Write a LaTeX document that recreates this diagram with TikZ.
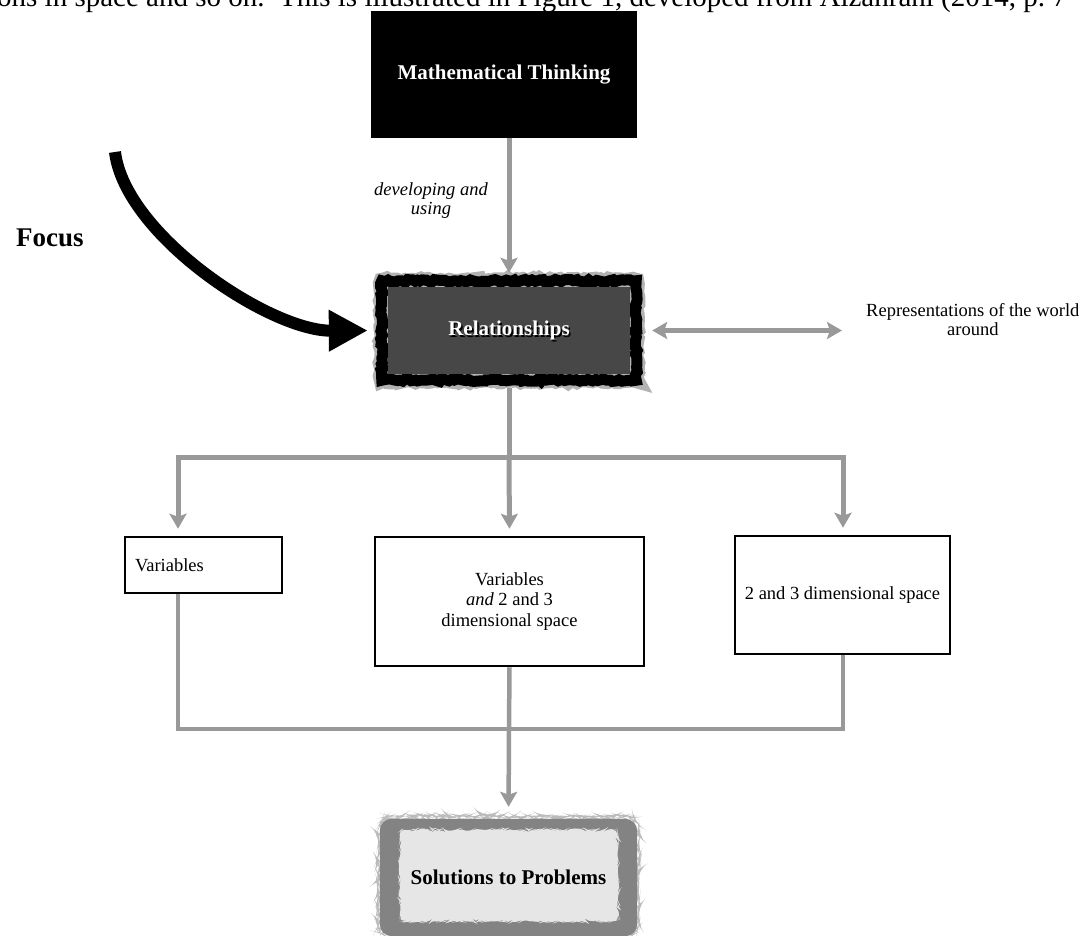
\documentclass[tikz,border=0pt]{standalone}
\usepackage{fontspec}
\setmainfont{Liberation Serif}
\usetikzlibrary{arrows.meta,decorations.pathmorphing}
\pgfdeclarelayer{bg}
\pgfsetlayers{bg,main}
\definecolor{conncol}{HTML}{999999}
\definecolor{reldark}{HTML}{474747}
\definecolor{solgray}{HTML}{838383}
\definecolor{sollight}{HTML}{E6E6E6}
\begin{document}
\begin{tikzpicture}[x=1pt,y=-1pt,
  connline/.style={draw=conncol, line width=5pt},
  connarrow/.style={draw=conncol, line width=5pt, -{Stealth[length=15pt,width=17pt,inset=3pt]}},
  plainbox/.style={draw=black, line width=2.5pt, fill=white, inner sep=0pt,
     font=\fontsize{18.5}{20.5}\selectfont},
  boldtext/.style={font=\bfseries\fontsize{21}{25}\selectfont},
  rough/.style={decorate, decoration={random steps, segment length=3pt, amplitude=1.3pt}}]
\useasboundingbox (0,0) rectangle (1082,936);
\clip (0,0) rectangle (1082,936);

% cut-off line of page text
\node[anchor=base west, inner sep=0pt, font=\fontsize{29}{32}\selectfont] (pagetext) at (-3,7)
  {ons in space and so on.\ \ This is illustrated in Figure 1, developed from Alzahrani (2014, p.~7};

% Mathematical Thinking
\node[boldtext, fill=black, text=white, minimum width=266pt, minimum height=127pt, inner sep=0pt]
  (mt) at (504,74.5) {Mathematical Thinking};

% Relationships
\node[boldtext, text=white, minimum width=270pt, minimum height=115pt, inner sep=0pt]
  (rel) at (509,330.5) {Relationships};
\begin{pgfonlayer}{bg}
  \draw[black!30, line width=16pt, rough] ([shift={(8,8)}]rel.north west) rectangle ([shift={(-8,-8)}]rel.south east);
  \draw[black, line width=11pt, rough] ([shift={(8,8)}]rel.north west) rectangle ([shift={(-8,-8)}]rel.south east);
  \fill[reldark] ([shift={(14,14)}]rel.north west) rectangle ([shift={(-14,-14)}]rel.south east);
  \node[boldtext, text=black] at ([shift={(1.6,1.6)}]rel.center) {Relationships};
\end{pgfonlayer}

% label on first connector
\node[font=\itshape\fontsize{18.5}{19}\selectfont, align=center] (dev) at (431,201) {developing and\\using};

% Focus
\node[font=\bfseries\fontsize{27}{30}\selectfont, anchor=base west, inner sep=0pt] (focus) at (16,247) {Focus};
\coordinate (fstart) at (115,152);
\draw[line width=12pt, -{Triangle[width=39pt,length=39pt]}, shorten >=6pt]
  (fstart) .. controls (125,235) and (270,331) .. (rel.west);

% Representations
\node[font=\fontsize{18.5}{19}\selectfont, align=center, inner sep=0pt, anchor=west]
  (rep) at (866,320) {Representations of the world\\around};
\draw[draw=conncol, line width=4.5pt, {Stealth[length=15pt,width=17pt,inset=3pt]}-{Stealth[length=15pt,width=17pt,inset=3pt]},
  shorten <=8pt, shorten >=24pt] (rel.east) -- (rel.east -| rep.west);

% three boxes
\node[plainbox, minimum width=157pt, minimum height=56pt, text width=137pt, align=left, inner xsep=10pt]
  (var) at (203.5,565) {Variables};
\node[plainbox, minimum width=269pt, minimum height=129pt, align=center]
  (mid) at (509.5,601.5) {Variables\\\textit{and} 2 and 3\\dimensional space};
\node[plainbox, minimum width=215pt, minimum height=118pt, align=center]
  (rb) at (842.5,595) {2 and 3 dimensional space};

% Solutions
\node[boldtext, minimum width=257pt, minimum height=117pt, inner sep=0pt]
  (sol) at (508.5,877.5) {Solutions to Problems};
\begin{pgfonlayer}{bg}
  \fill[solgray!55, rounded corners=12pt, rough] ([shift={(-1,-2)}]sol.north west) rectangle ([shift={(1,1)}]sol.south east);
  \fill[solgray, rounded corners=12pt] (sol.north west) rectangle (sol.south east);
  \fill[sollight, rounded corners=5pt, rough] ([shift={(20,11)}]sol.north west) rectangle ([shift={(-19,-15)}]sol.south east);
\end{pgfonlayer}

% upper connectors
\coordinate (split) at (509,457);
\coordinate (lc) at (178,457);
\coordinate (rc) at (843,457);
\draw[connarrow] (rel.north |- mt.south) -- (rel.north);
\draw[connline] (rel.south) -- (split);
\draw[connline, line cap=rect] (lc) -- (rc);
\draw[connarrow, shorten >=7pt] (lc) -- (lc |- var.north);
\draw[connarrow, shorten >=7pt] (split) -- (mid.north);
\draw[connarrow, shorten >=7pt] (rc) -- (rc |- rb.north);

% lower connectors
\coordinate (bl) at (178,729);
\coordinate (br) at (843,729);
\coordinate (bm) at (509,729);
\draw[connline, line width=4.5pt, line join=miter] (bl |- var.south) -- (bl) -- (br) -- (br |- rb.south);
\draw[connline, line width=4.5pt] (mid.south) -- (bm);
\draw[connarrow, line width=4.5pt, shorten >=12pt] (bm) -- (sol.north);
\end{tikzpicture}
\end{document}
